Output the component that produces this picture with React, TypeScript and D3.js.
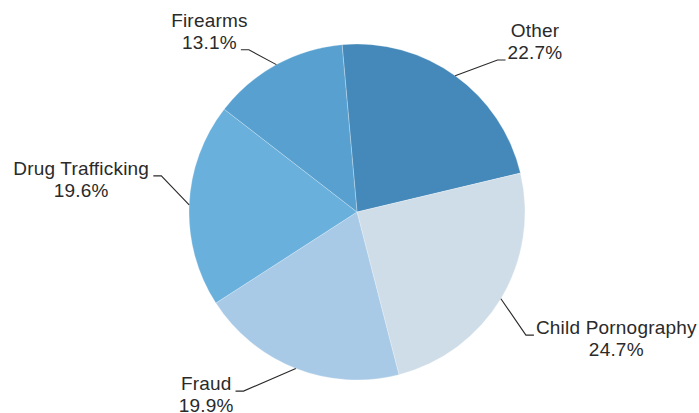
import * as d3 from "d3";

// slices, clockwise from the top
const categories = ["Other", "Child Pornography", "Fraud", "Drug Trafficking", "Firearms"];
const shares = [22.7, 24.7, 19.9, 19.6, 13.1];
const sliceColors = ["#4589ba", "#cfdde8", "#a9cae6", "#69b0dd", "#57a0d0"];

const width = 699;
const height = 413;
const cx = 357;
const cy = 212;
const radius = 168;
const startDeg = -5.1;
const fontSize = 19;
const spacing = 0.2;
const font = `${fontSize}px "Liberation Sans", Arial, sans-serif`;

// where each connector bends: angle nudge (deg) and distance from centre
const bendShift = [7, 5, 11, 8, -5];
const bendRadius = [207, 209, 212, 199, 195];

let ctx: CanvasRenderingContext2D | null = null;
const textWidth = (s: string) => {
  if (!ctx) ctx = document.createElement("canvas").getContext("2d");
  if (!ctx) return s.length * fontSize * 0.55;
  ctx.font = font;
  return ctx.measureText(s).width + spacing * s.length;
};

const polar = (a: number, r: number): [number, number] => [cx + r * Math.sin(a), cy - r * Math.cos(a)];

const App = () => {
  const pie = d3
    .pie<number>()
    .sort(null)
    .value((d) => d)
    .startAngle((startDeg * Math.PI) / 180)
    .endAngle((startDeg * Math.PI) / 180 + 2 * Math.PI);
  const arcs = pie(shares);
  const arc = d3.arc<d3.PieArcDatum<number>>().innerRadius(0).outerRadius(radius);

  return (
    <svg
      width={width}
      height={height}
      viewBox={`0 0 ${width} ${height}`}
      style={{ position: "absolute", left: 0, top: 0, background: "#fff" }}
      fontFamily='"Liberation Sans", Arial, sans-serif'
      fontSize={fontSize}
      letterSpacing={spacing}
    >
      <g transform={`translate(${cx}, ${cy})`}>
        {arcs.map((a, i) => (
          <path key={i} d={arc(a) ?? ""} fill={sliceColors[i]} stroke="#ffffff" strokeOpacity={0.45} strokeWidth={0.6} />
        ))}
      </g>

      {arcs.map((a, i) => {
        const mid = (a.startAngle + a.endAngle) / 2;
        const [sx, sy] = polar(mid, radius);
        const [bx, by] = polar(mid + (bendShift[i] * Math.PI) / 180, bendRadius[i]);
        const right = bx > cx;
        const ex = right ? bx + 8 : bx - 8;
        const label = categories[i];
        const pct = `${shares[i].toFixed(1)}%`;
        // labels high up hang their percentage on the connector, others their name
        const attachPct = by < cy - radius * 0.6;
        const attached = attachPct ? pct : label;
        const w = textWidth(attached);
        const gap = right ? 2 : 4;
        const attachedCenter = right ? ex + gap + w / 2 : ex - gap - w / 2;
        const baseline = by - 1;
        const nameY = attachPct ? baseline - 22 : baseline;
        const pctY = attachPct ? baseline : baseline + 22;
        return (
          <g key={i}>
            <polyline
              points={`${sx},${sy} ${bx},${by} ${ex},${by}`}
              fill="none"
              stroke="#2a2a2a"
              strokeWidth={1.1}
            />
            <text x={attachedCenter} y={nameY} textAnchor="middle" fill="#2a2a2a">
              {label}
            </text>
            <text x={attachedCenter} y={pctY} textAnchor="middle" fill="#2a2a2a">
              {pct}
            </text>
          </g>
        );
      })}
    </svg>
  );
};

export default App;
